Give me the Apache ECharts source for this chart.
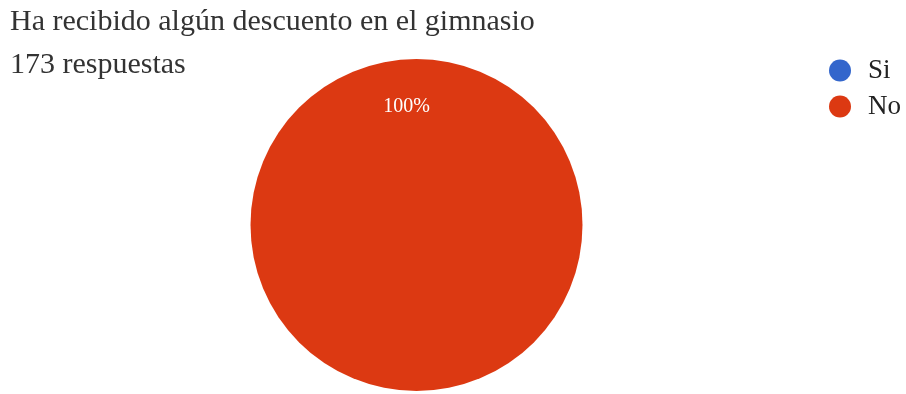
<!DOCTYPE html>
<html>
<head>
<meta charset="utf-8">
<style>
  html, body { margin: 0; padding: 0; background: #ffffff; }
  #chart { width: 906px; height: 394px; }
</style>
<script src="https://cdn.jsdelivr.net/npm/echarts@6/dist/echarts.min.js"></script>
</head>
<body>
<div id="chart"></div>
<script>
// Survey question and response count
const questionTitle = 'Ha recibido algún descuento en el gimnasio';
const responsesLabel = '173 respuestas';

// Answer options, counts and slice colours
const answers = ['Si', 'No'];
const counts = [0, 173];
const answerColors = ['#3366CC', '#DC3912'];

const serif = '"Liberation Serif", "Times New Roman", "DejaVu Serif", serif';

const chart = echarts.init(document.getElementById('chart'), null, { renderer: 'canvas' });

chart.setOption({
  animation: false,
  backgroundColor: '#ffffff',
  title: [
    {
      text: questionTitle,
      left: 10,
      top: 7,
      padding: 0,
      textStyle: { fontFamily: serif, fontSize: 30, fontWeight: 'normal', color: '#333333', lineHeight: 30 }
    },
    {
      text: responsesLabel,
      left: 10,
      top: 50,
      padding: 0,
      textStyle: { fontFamily: serif, fontSize: 30, fontWeight: 'normal', color: '#333333', lineHeight: 30 }
    }
  ],
  legend: {
    orient: 'vertical',
    left: 829,
    top: 57,
    padding: 0,
    icon: 'circle',
    itemWidth: 22,
    itemHeight: 22,
    itemGap: 9,
    selectedMode: false,
    data: answers,
    textStyle: { fontFamily: serif, fontSize: 27, color: '#222222', lineHeight: 22, padding: [0, 0, 0, 12] }
  },
  series: [
    {
      type: 'pie',
      center: [416.5, 225],
      radius: [0, 166],
      startAngle: 270,
      clockwise: true,
      stillShowZeroSum: true,
      minAngle: 0,
      avoidLabelOverlap: false,
      itemStyle: { borderWidth: 0 },
      emphasis: { disabled: true },
      label: {
        show: true,
        position: 'inner',
        fontFamily: serif,
        fontSize: 20,
        color: '#ffffff',
        formatter: p => (p.value > 0 ? Math.round(p.percent) + '%' : '')
      },
      labelLine: { show: false },
      labelLayout: { dx: -10, dy: -32 },
      data: answers.map((name, i) => ({
        name: name,
        value: counts[i],
        itemStyle: { color: answerColors[i] }
      }))
    }
  ]
});
</script>
</body>
</html>
